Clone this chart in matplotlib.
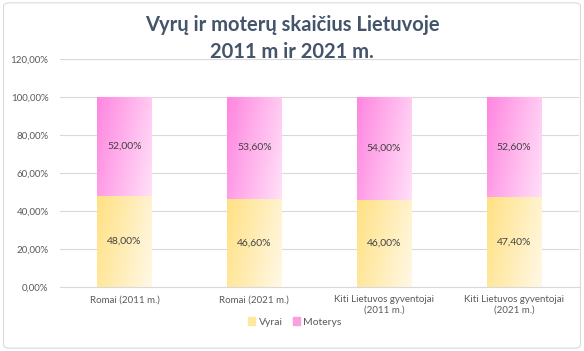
import matplotlib.pyplot as plt
import numpy as np
from matplotlib.patches import FancyBboxPatch

plt.rcParams['font.family'] = ['Lato', 'DejaVu Sans']

categories = ['Romai (2011 m.)', 'Romai (2021 m.)',
              'Kiti Lietuvos gyventojai\n(2011 m.)', 'Kiti Lietuvos gyventojai\n(2021 m.)']
vyrai = [48.0, 46.6, 46.0, 47.4]
moterys = [52.0, 53.6, 54.0, 52.6]

fig = plt.figure(figsize=(5.84, 3.51), dpi=100)
fig.patches.append(FancyBboxPatch((0.006, 0.008), 0.988, 0.984, boxstyle='round,pad=0,rounding_size=0.01',
                                  transform=fig.transFigure, facecolor='none', edgecolor='#D9D9D9', lw=0.8))
ax = fig.add_axes([0.102, 0.182, 0.889, 0.65])
ax.set_facecolor('none')

x = np.arange(len(categories))
w = 0.42
b1 = ax.bar(x, vyrai, w, color='#FFEDB0', label='Vyrai', zorder=2)
b2 = ax.bar(x, moterys, w, bottom=vyrai, color='#FFB0EC', label='Moterys', zorder=2)


# diagonal gradient: c1 at top-left, c2 at bottom-right
def grad(c1, c2, n=64):
    c1 = np.array(plt.matplotlib.colors.to_rgb(c1))
    c2 = np.array(plt.matplotlib.colors.to_rgb(c2))
    t = np.linspace(0, 1, n)
    tt = 0.75 * t[None, :] + 0.25 * t[:, None]
    return c1 + (c2 - c1) * tt[..., None]


yel = grad('#FFE183', '#FFF8E6')
pnk = grad('#FF86E0', '#FFE0F8')
for bars, img in ((b1, yel), (b2, pnk)):
    for p in bars:
        x0, y0 = p.get_x(), p.get_y()
        im = ax.imshow(img, extent=[x0, x0 + p.get_width(), y0, y0 + p.get_height()],
                       origin='upper', aspect='auto', zorder=2.5)
        im.set_clip_path(p)

for i in range(len(x)):
    ax.text(x[i], vyrai[i] / 2, f'{vyrai[i]:.2f}%'.replace('.', ','), ha='center', va='center',
            fontsize=7.5, color='#404040', zorder=3)
    ax.text(x[i], vyrai[i] + moterys[i] / 2, f'{moterys[i]:.2f}%'.replace('.', ','), ha='center',
            va='center', fontsize=7.5, color='#404040', zorder=3)

ax.set_xlim(-0.5, 3.5)
ax.set_ylim(0, 120)
ax.set_yticks(np.arange(0, 121, 20))
ax.set_yticklabels([f'{v:.2f}%'.replace('.', ',') for v in np.arange(0, 121, 20)])
ax.set_xticks(x)
ax.set_xticklabels(categories)
ax.tick_params(axis='both', length=0, labelsize=7, labelcolor='#595959')
ax.tick_params(axis='y', pad=8)
ax.tick_params(axis='x', pad=6)
ax.yaxis.grid(True, color='#D9D9D9', lw=0.8, zorder=0)
ax.set_axisbelow(True)
for s in ['top', 'right', 'left']:
    ax.spines[s].set_visible(False)
ax.spines['bottom'].set_color('#D9D9D9')

fig.text(0.5, 0.93, 'Vyrų ir moterų skaičius Lietuvoje', ha='center', va='center',
         fontsize=14.5, fontweight='bold', color='#44546A')
fig.text(0.5, 0.853, '2011 m ir 2021 m.', ha='center', va='center',
         fontsize=14.5, fontweight='bold', color='#44546A')

leg = fig.legend(handles=[b1, b2], loc='center', bbox_to_anchor=(0.505, 0.083), ncol=2, frameon=False,
                 fontsize=7.5, handlelength=0.7, handleheight=0.7, handletextpad=0.3, columnspacing=1.0,
                 labelcolor='#595959')
leg.legend_handles[0].set_color('#FFE99C')
leg.legend_handles[1].set_color('#F8A0E0')

fig.savefig('out.png', dpi=100)
